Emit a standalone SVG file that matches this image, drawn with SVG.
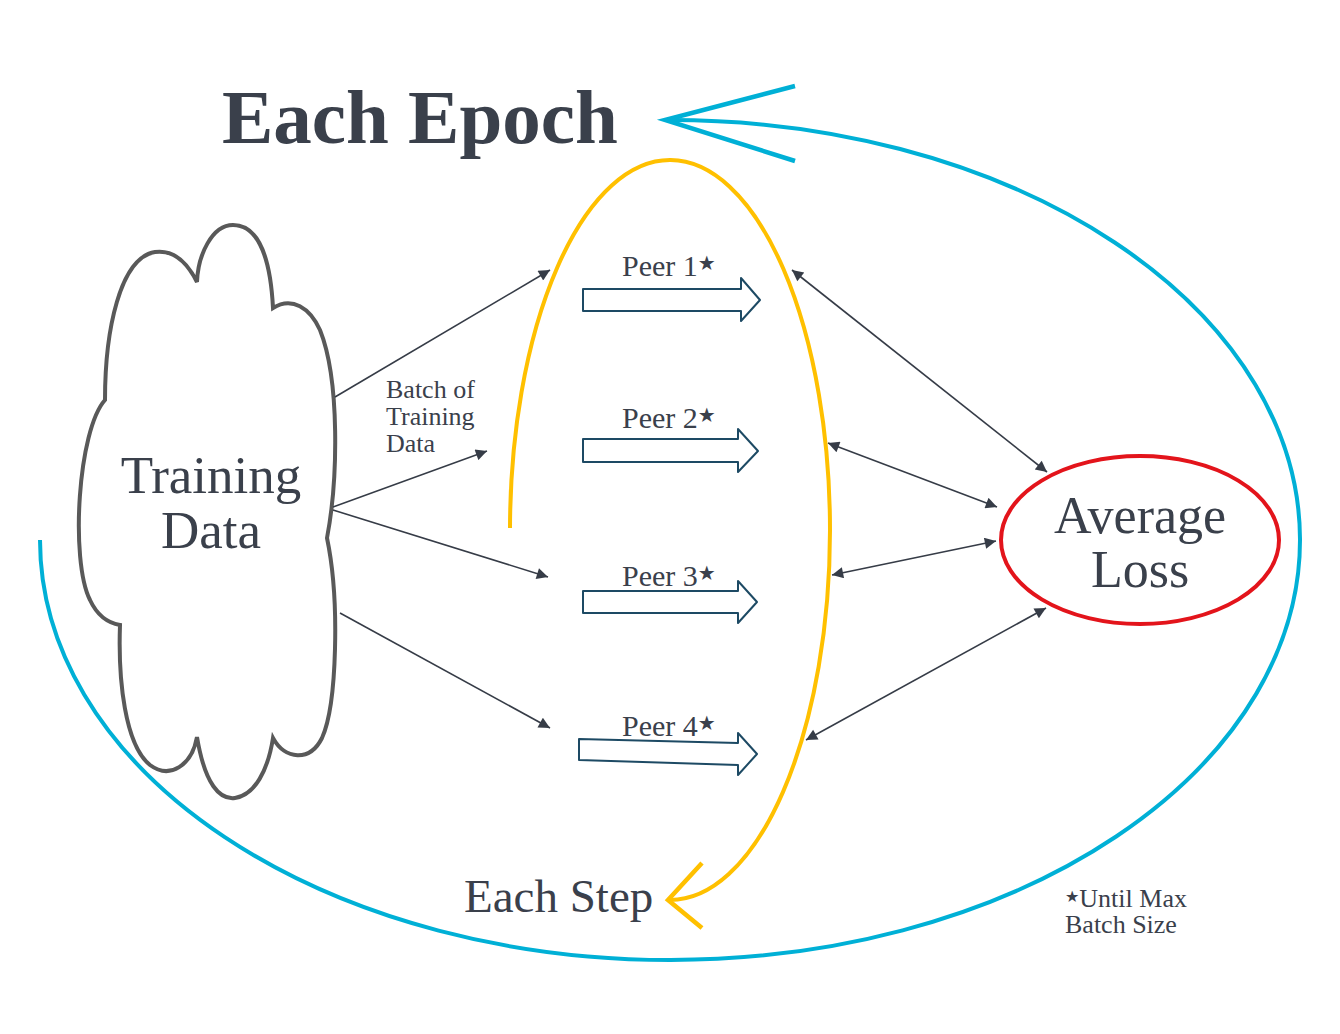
<svg xmlns="http://www.w3.org/2000/svg" width="1340" height="1034" viewBox="0 0 1340 1034">
<defs>
<style>
.t{font-family:"Liberation Serif","Times New Roman",serif;fill:#3a404b}
.star{font-family:"DejaVu Sans",sans-serif;fill:#3a404b}
.conn{stroke:#363c47;stroke-width:1.6;fill:none}
.peer{fill:#fff;stroke:#1d4a64;stroke-width:2;stroke-linejoin:round}
.loop{fill:none;stroke-linecap:butt}
</style>
<marker id="ah" viewBox="0 0 10 10" refX="10" refY="5" markerWidth="9" markerHeight="7" markerUnits="strokeWidth" orient="auto-start-reverse">
<path d="M0,0 L10,5 L0,10 Z" fill="#363c47"/>
</marker>
</defs>
<rect width="1340" height="1034" fill="#fff"/>

<g id="epoch-loop">
<path class="loop" d="M40,540 A630,420 0 1 0 668,120" stroke="#00b0d6" stroke-width="4"/>
<path class="loop" d="M795,86 L665,120 L795,161" stroke="#00b0d6" stroke-width="4.5"/>
</g>

<g id="step-loop">
<path class="loop" d="M510,528 A160,370 0 1 1 670,900" stroke="#ffc000" stroke-width="4"/>
<path class="loop" d="M702,863 L668,900 L702,928" stroke="#ffc000" stroke-width="4.5"/>
</g>

<g id="title">
<text class="t" x="222" y="143" font-size="77" font-weight="bold">Each Epoch</text>
</g>

<g id="training-data">
<path d="M105,400 C78,430 70,560 90,600 C97,615 108,623 120,625 C118,680 125,745 150,765 C170,780 192,765 197,737 C205,785 220,800 235,798 C255,795 268,770 273,738 C285,760 310,762 322,738 C337,705 340,600 327,538 C338,480 340,380 320,330 C310,308 292,296 273,308 C270,250 255,225 233,225 C212,225 198,255 197,282 C185,258 170,250 155,252 C120,258 105,330 105,400 Z" fill="#fff" stroke="#595959" stroke-width="4" stroke-linejoin="miter"/>
<text class="t" x="211" y="493" font-size="53" text-anchor="middle">Training</text>
<text class="t" x="211" y="548" font-size="53" text-anchor="middle">Data</text>
</g>

<g id="batch-label">
<text class="t" x="386" y="398" font-size="26">Batch of</text>
<text class="t" x="386" y="425" font-size="26">Training</text>
<text class="t" x="386" y="452" font-size="26">Data</text>
</g>

<g id="peer1">
<polygon class="peer" points="583,289 741,289 741,278 760,300 741,321 741,311 583,311"/>
<text class="t" x="622" y="276" font-size="30">Peer 1<tspan class="star" font-size="20" dy="-6">★</tspan></text>
</g>
<g id="peer2">
<polygon class="peer" points="583,439 738,439 738,429 758,451 738,472 738,462 583,462"/>
<text class="t" x="622" y="428" font-size="30">Peer 2<tspan class="star" font-size="20" dy="-6">★</tspan></text>
</g>
<g id="peer3">
<polygon class="peer" points="583,591 738,591 738,581 757,602 738,623 738,613 583,613"/>
<text class="t" x="622" y="586" font-size="30">Peer 3<tspan class="star" font-size="20" dy="-6">★</tspan></text>
</g>
<g id="peer4">
<polygon class="peer" points="579,739 738,743 738,733 757,754 738,775 738,765 579,760"/>
<text class="t" x="622" y="736" font-size="30">Peer 4<tspan class="star" font-size="20" dy="-6">★</tspan></text>
</g>

<g id="average-loss">
<ellipse cx="1140" cy="540" rx="139" ry="84" fill="#fff" stroke="#e3141b" stroke-width="4"/>
<text class="t" x="1140" y="533" font-size="52" text-anchor="middle">Average</text>
<text class="t" x="1140" y="587" font-size="52" text-anchor="middle">Loss</text>
</g>

<g id="connectors">
<line class="conn" x1="335" y1="397" x2="550" y2="270" marker-end="url(#ah)"/>
<line class="conn" x1="333" y1="507" x2="487" y2="451" marker-end="url(#ah)"/>
<line class="conn" x1="333" y1="510" x2="548" y2="577" marker-end="url(#ah)"/>
<line class="conn" x1="340" y1="613" x2="550" y2="728" marker-end="url(#ah)"/>
<line class="conn" x1="792" y1="270" x2="1047" y2="472" marker-start="url(#ah)" marker-end="url(#ah)"/>
<line class="conn" x1="828" y1="443" x2="997" y2="507" marker-start="url(#ah)" marker-end="url(#ah)"/>
<line class="conn" x1="832" y1="575" x2="996" y2="541" marker-start="url(#ah)" marker-end="url(#ah)"/>
<line class="conn" x1="806" y1="740" x2="1046" y2="608" marker-start="url(#ah)" marker-end="url(#ah)"/>
</g>

<g id="step-label">
<text class="t" x="464" y="912" font-size="47">Each Step</text>
</g>

<g id="footnote">
<text class="t" x="1065" y="907" font-size="26"><tspan class="star" font-size="16" dy="-5">★</tspan><tspan dy="5">Until Max</tspan></text>
<text class="t" x="1065" y="933" font-size="26">Batch Size</text>
</g>
</svg>
